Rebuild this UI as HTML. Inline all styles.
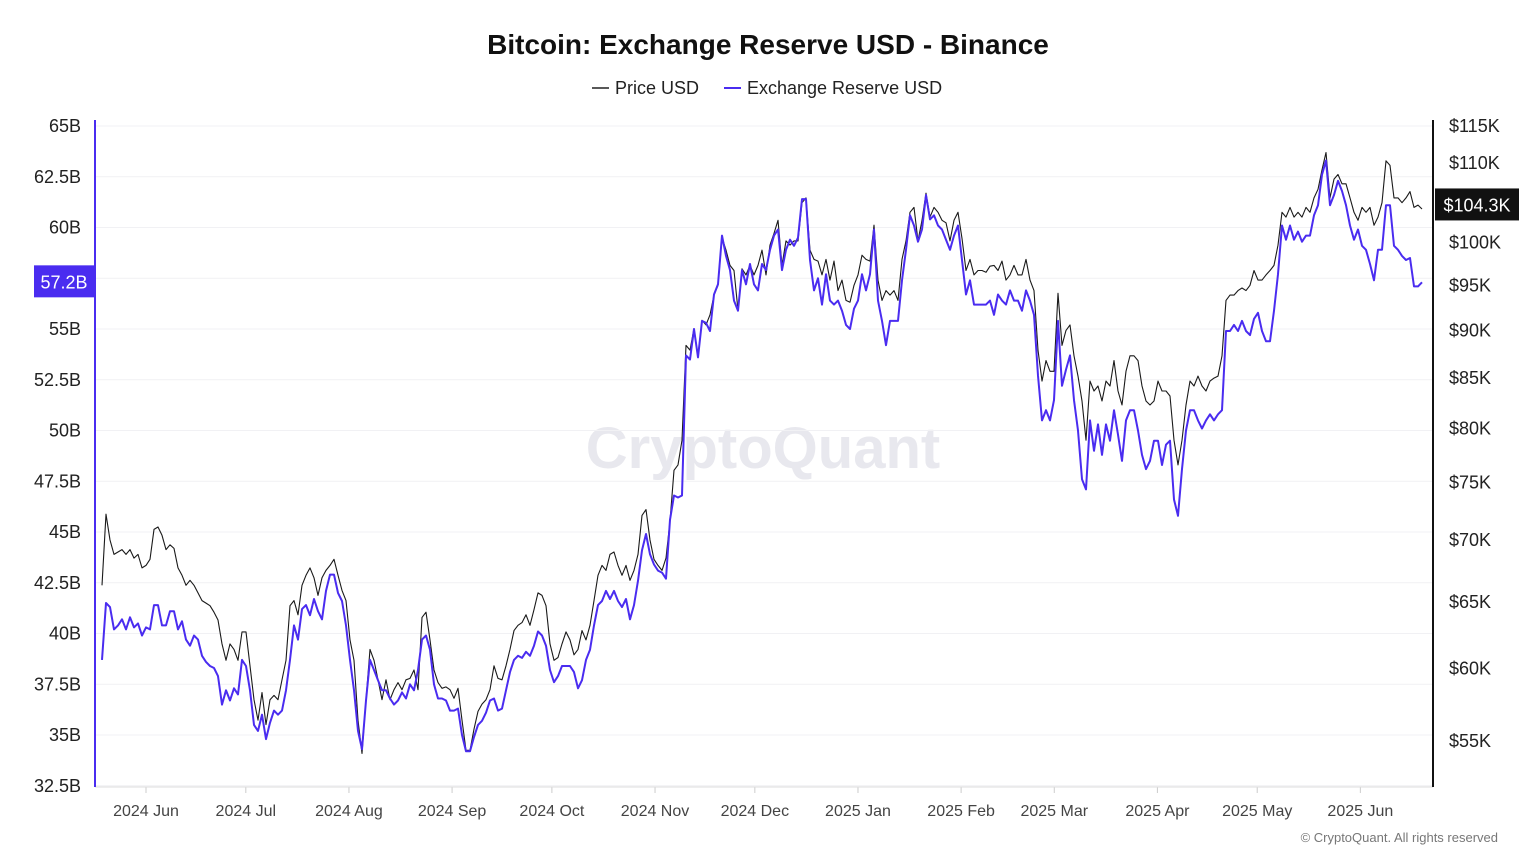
<!DOCTYPE html>
<html><head><meta charset="utf-8"><style>
body{margin:0;background:#fff;font-family:"Liberation Sans",sans-serif;}
svg{display:block}
</style></head><body>
<svg id="chart" width="1536" height="864">
<text x="768" y="54" text-anchor="middle" font-size="28" font-weight="bold" fill="#111">Bitcoin: Exchange Reserve USD - Binance</text>
<g>
<g><line x1="592" y1="88" x2="609" y2="88" stroke="#222" stroke-width="1.5"/><text x="615" y="94" font-size="18" fill="#222">Price USD</text></g>
<g><line x1="724" y1="88" x2="741" y2="88" stroke="#4a2cf0" stroke-width="2"/><text x="747" y="94" font-size="18" fill="#222">Exchange Reserve USD</text></g>
</g>
<text x="763" y="468" text-anchor="middle" font-size="58" font-weight="bold" fill="#e8e8ee">CryptoQuant</text>
<g id="grid"></g>
<g id="axes"></g>
<g id="series"></g>
<text x="1498" y="842" text-anchor="end" font-size="13" fill="#777">© CryptoQuant. All rights reserved</text>
</svg>
<script>
const reserveB=[38.7,41.5,41.3,40.2,40.4,40.7,40.2,40.8,40.3,40.5,39.9,40.3,40.2,41.4,41.4,40.4,40.4,41.1,41.1,40.2,40.6,39.7,39.4,39.9,39.7,38.9,38.6,38.4,38.3,37.9,36.5,37.2,36.7,37.3,37.0,38.7,38.4,37.2,35.5,35.2,36.0,34.8,35.6,36.2,36.0,36.2,37.2,38.7,40.4,39.7,41.2,41.4,40.9,41.7,41.1,40.7,42.1,42.9,42.9,42.0,41.6,40.4,38.7,37.2,35.2,34.3,36.7,38.7,38.2,37.7,37.2,37.2,36.8,36.5,36.7,37.1,36.8,37.5,37.2,38.2,39.7,39.9,39.2,37.5,36.8,36.8,36.7,36.2,36.2,36.3,35.0,34.2,34.2,34.9,35.5,35.7,36.1,36.7,36.8,36.2,36.3,37.2,38.1,38.7,38.9,38.8,39.1,38.9,39.4,40.1,39.9,39.4,38.2,37.6,37.9,38.4,38.4,38.4,38.1,37.3,37.7,38.7,39.2,40.4,41.4,41.6,42.1,41.7,42.1,41.6,41.3,41.7,40.7,41.4,42.6,44.1,44.9,43.9,43.4,43.1,43.0,42.7,45.6,46.8,46.7,46.8,53.7,53.5,55.0,53.6,55.4,55.3,54.9,56.7,57.2,59.6,58.6,57.9,56.4,55.9,57.9,57.2,58.2,57.2,56.9,58.2,57.9,58.9,59.6,59.9,57.9,58.9,59.4,59.1,59.5,61.4,61.4,58.4,56.9,57.5,56.2,57.7,56.4,56.2,56.4,55.9,55.2,55.0,56.0,56.4,57.7,56.9,57.7,59.9,56.4,55.4,54.2,55.4,55.4,55.4,57.4,58.9,60.6,60.1,59.3,59.9,61.6,60.4,60.6,60.1,59.9,59.4,58.9,59.6,60.1,58.4,56.7,57.4,56.2,56.2,56.2,56.2,56.4,55.7,56.7,56.4,56.2,56.9,56.4,56.4,55.9,56.9,56.4,55.7,52.7,50.5,51.0,50.5,51.5,55.4,52.2,53.0,53.7,51.5,50.0,47.6,47.1,50.5,49.0,50.3,48.8,50.3,49.5,51.0,49.8,48.5,50.5,51.0,51.0,50.0,48.8,48.1,48.5,49.5,49.5,48.3,49.3,49.5,46.6,45.8,48.1,50.0,51.0,51.0,50.5,50.1,50.5,50.8,50.5,50.8,51.0,54.9,54.9,55.2,54.9,55.4,54.9,54.7,55.5,55.8,54.9,54.4,54.4,55.9,57.7,60.1,59.4,60.1,59.4,59.8,59.3,59.6,59.6,60.6,61.1,62.6,63.3,61.1,61.6,62.3,61.8,61.1,60.1,59.4,59.9,59.1,58.9,58.2,57.4,58.9,58.9,61.1,61.1,59.1,58.9,58.6,58.4,58.5,57.1,57.1,57.3];
const priceK=[66.3,72.2,70,68.8,69,69.2,68.8,69.2,68.5,68.8,67.7,67.9,68.4,70.9,71.1,70.4,69.2,69.6,69.3,67.7,67.1,66.3,66.7,66.3,65.7,65.1,64.9,64.7,64.2,63.6,61.8,60.6,61.8,61.4,60.6,62.7,62.7,60.2,57.8,56.4,58.3,56.1,57.8,58.1,57.8,59.2,60.6,64.7,65.1,64,66.3,67.1,67.7,66.9,65.5,66.9,67.5,67.9,68.4,67.1,65.9,65.1,62.1,60.6,56.4,54.2,57.8,61.4,60.6,59.2,57.8,59.2,57.8,58.5,59,58.5,59.2,59.3,59.9,58.5,63.8,64.2,62.1,59.9,59,58.6,58.7,58.5,57.9,58.6,56.4,54.4,54.4,55.8,57,57.5,57.8,58.5,60.2,59.3,59.2,60.2,61.4,62.8,63.2,63.4,64,63.2,64.4,65.7,65.5,64.7,61.8,60.6,60.8,61.8,62.7,62.1,61,61.4,62.8,62.1,63.2,65.1,67.1,67.9,67.5,68.8,69,67.9,67.1,67.9,66.7,67.5,68.8,72.1,72.6,70,68.4,67.9,67.5,68.5,71.6,76.1,76.6,78.9,88.4,87.9,90.2,87.3,91.1,90.6,91.7,93.9,95,100.6,99.1,97.3,96.7,92.2,96.9,96.2,97.3,96.2,97.3,99.1,96.2,99.7,101.1,102.7,97.3,100.2,99.7,100.2,100.2,104.9,105.5,99.1,98,97.8,96.2,98,95.6,97.8,94.4,95.6,93.3,93.1,95,96.2,98.5,98,97.8,102.1,95.6,93.3,94.4,93.9,94.4,93.3,98,100.2,103.7,104.3,100.2,102.7,106.1,103.1,104.3,103.7,102.7,102.4,100.2,102.7,103.7,100.5,96.7,98,96.2,96.7,96.7,96.5,97.2,97.3,96.7,97.8,95.6,96.2,97.3,96.2,96.2,98,95.6,94.4,87.9,84.7,86.8,85.7,85.7,94.1,88.4,90,90.6,87.3,85.2,82.7,78.9,84.7,83.7,84.2,82.7,84.7,84.2,86.8,83.7,82.3,85.7,87.3,87.3,86.8,84.2,82.7,82.3,82.7,84.7,83.7,83.7,83.2,78.9,76.6,78.9,82.3,84.7,84.2,85.2,84.2,83.7,84.7,85,85.2,87.3,93.3,93.9,93.9,94.4,94.7,94.4,95,96.7,95.6,95.6,96.2,96.7,97.3,99.7,103.7,103.1,104.3,103.1,103.7,103.1,104.3,103.7,105.5,106.6,109.1,111.4,105.5,107.9,108.5,107.3,107.3,105.5,103.7,102.7,104.3,103.7,104.3,102.1,103.1,104.9,110.3,109.7,105.5,105.5,104.9,105.5,106.3,104.3,104.6,104.1];
const leftTicks=[65,62.5,60,57.5,55,52.5,50,47.5,45,42.5,40,37.5,35,32.5];
const leftLabels=["65B","62.5B","60B","","55B","52.5B","50B","47.5B","45B","42.5B","40B","37.5B","35B","32.5B"];
const rightTicks=[115,110,100,95,90,85,80,75,70,65,60,55];
const monthLabels=["2024 Jun","2024 Jul","2024 Aug","2024 Sep","2024 Oct","2024 Nov","2024 Dec","2025 Jan","2025 Feb","2025 Mar","2025 Apr","2025 May","2025 Jun"];
const monthDays=[0,30,61,92,122,153,183,214,245,273,304,334,365];
const lastReserve=57.2, lastPrice=104.3;

const NS="http://www.w3.org/2000/svg";
const X0=102,X1=1422;
const n=reserveB.length;
const xi=i=>X0+(X1-X0)*i/(n-1);
const xd=d=>146+d*3.327;
const yL=v=>126+(65-v)*20.3;
const yR=p=>126+834*Math.log(115/p);
function mk(tag,attrs,parent){const e=document.createElementNS(NS,tag);for(const k in attrs)e.setAttribute(k,attrs[k]);parent.appendChild(e);return e;}
const grid=document.getElementById('grid'),axes=document.getElementById('axes'),ser=document.getElementById('series');

leftTicks.forEach((v,i)=>{
  const y=yL(v);
  const gl=mk('line',{x1:96,x2:1432,y1:y,y2:y,stroke:'#f1f1f4','stroke-width':1},grid);
  
  
  if(leftLabels[i]){
    const t=mk('text',{x:81,y:y+6,'text-anchor':'end','font-size':18,fill:'#222'},axes);
    t.textContent=leftLabels[i];
    
    
  }
});
rightTicks.forEach(p=>{
  const t=mk('text',{x:1449,y:yR(p)+6,'font-size':18,fill:'#222'},axes);
  t.textContent='$'+p+'K';
  
  
});
monthLabels.forEach((m,i)=>{
  const x=xd(monthDays[i]);
  const tk=mk('line',{x1:x,x2:x,y1:787,y2:793,stroke:'#ccc'},axes);
  
  
  const t=mk('text',{x:x,y:816,'text-anchor':'middle','font-size':16,fill:'#444'},axes);
  t.textContent=m;
  
  
});
const xa=mk('line',{x1:95,x2:1433,y1:787,y2:787,stroke:'#ddd'},axes);


const la=mk('line',{x1:95,x2:95,y1:120,y2:787,stroke:'#4a2cf0','stroke-width':2},axes);


const ra=mk('line',{x1:1433,x2:1433,y1:120,y2:787,stroke:'#111','stroke-width':2},axes);



const pp=mk('polyline',{points:priceK.map((p,i)=>xi(i).toFixed(1)+','+yR(p).toFixed(1)).join(' '),fill:'none',stroke:'#1a1a1a','stroke-width':1.1,'stroke-linejoin':'round'},ser);


const rp=mk('polyline',{points:reserveB.map((v,i)=>xi(i).toFixed(1)+','+yL(v).toFixed(1)).join(' '),fill:'none',stroke:'#4a2cf0','stroke-width':2,'stroke-linejoin':'round'},ser);



const yl=yL(lastReserve)-3;
const lb=mk('rect',{x:34,y:yl-16,width:60,height:32,fill:'#4a2cf0'},axes);


const lt=mk('text',{x:64,y:yl+7,'text-anchor':'middle','font-size':18,fill:'#fff'},axes);
lt.textContent=lastReserve+'B';


const yr=yR(lastPrice)-3;
const rb=mk('rect',{x:1435,y:yr-16,width:84,height:32,fill:'#111'},axes);


const rt=mk('text',{x:1477,y:yr+7,'text-anchor':'middle','font-size':18,fill:'#fff'},axes);
rt.textContent='$'+lastPrice+'K';


</script>
</body></html>
